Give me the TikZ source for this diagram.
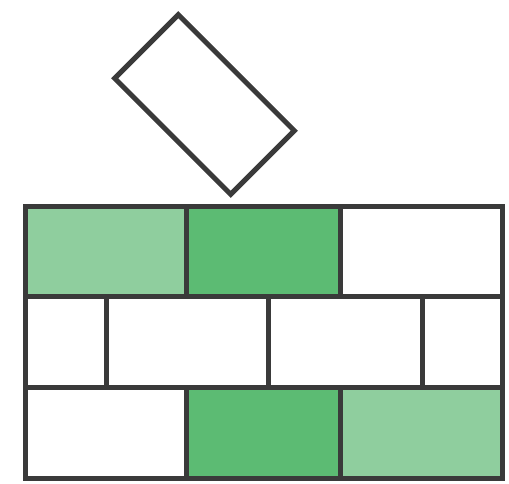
\documentclass[tikz,border=0pt]{standalone}
\definecolor{lightg}{HTML}{8FCE9E}
\definecolor{darkg}{HTML}{5CBB73}
\definecolor{edge}{HTML}{3A3A3A}
\begin{document}
\begin{tikzpicture}[x=1pt,y=-1pt,
  brick/.style={draw=edge,line width=5pt,line join=miter},
  lbrick/.style={brick,fill=lightg},
  dbrick/.style={brick,fill=darkg},
  wbrick/.style={brick,fill=white}]
\useasboundingbox (0,0) rectangle (509,484);
% row 1
\draw[lbrick] (25.5,206.5) rectangle (186.5,296.5);
\draw[dbrick] (186.5,206.5) rectangle (340,296.5);
\draw[wbrick] (340,206.5) rectangle (502.5,296.5);
% row 2
\draw[wbrick] (25.5,296.5) rectangle (106.5,387);
\draw[wbrick] (106.5,296.5) rectangle (268,387);
\draw[wbrick] (268,296.5) rectangle (422.5,387);
\draw[wbrick] (422.5,296.5) rectangle (502.5,387);
% row 3
\draw[wbrick] (25.5,387) rectangle (186.5,478);
\draw[dbrick] (186.5,387) rectangle (340,478);
\draw[lbrick] (340,387) rectangle (502.5,478);
% tilted brick
\coordinate (t1) at (178.3,14.7);
\coordinate (t2) at (294.3,130.7);
\coordinate (t3) at (230.7,194.3);
\coordinate (t4) at (114.7,78.3);
\draw[wbrick] (t1) -- (t2) -- (t3) -- (t4) -- cycle;
\end{tikzpicture}
\end{document}
